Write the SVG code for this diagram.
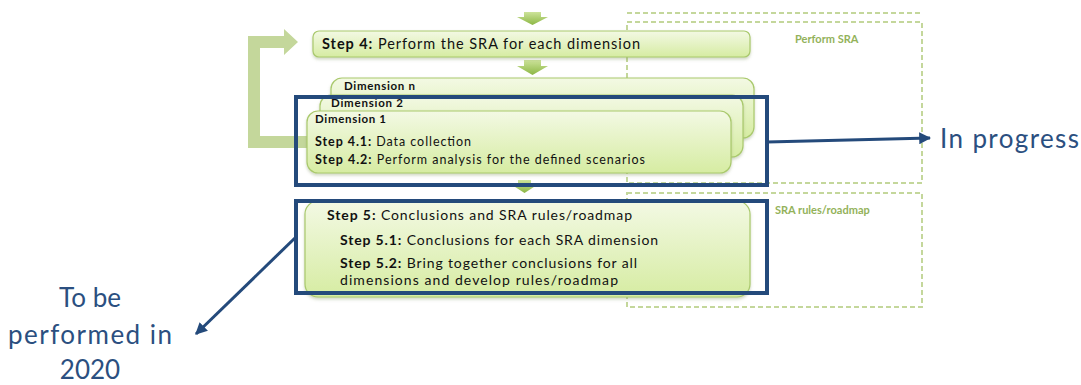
<svg xmlns="http://www.w3.org/2000/svg" width="1081" height="385" viewBox="0 0 1081 385">
  <defs>
    <linearGradient id="boxFill" x1="0" y1="0" x2="0" y2="1">
      <stop offset="0" stop-color="#f3f9e4"/>
      <stop offset="1" stop-color="#d6eca2"/>
    </linearGradient>
    <linearGradient id="chevFill" x1="0" y1="0" x2="0" y2="1">
      <stop offset="0" stop-color="#cde39a"/>
      <stop offset="1" stop-color="#8cb744"/>
    </linearGradient>
    <filter id="soft" x="-5%" y="-10%" width="110%" height="130%">
      <feDropShadow dx="0" dy="2" stdDeviation="1.5" flood-color="#7a8f55" flood-opacity="0.35"/>
    </filter>
    <marker id="blueHead" viewBox="0 0 10 10" refX="9" refY="5" markerWidth="4" markerHeight="4" orient="auto">
      <path d="M0,0 L10,5 L0,10 z" fill="#244a7b"/>
    </marker>
  </defs>
  <style>
    .box { fill: url(#boxFill); stroke: #a9c96c; stroke-width: 1.2; filter: url(#soft); }
    .chev { fill: url(#chevFill); }
    .zone { fill: none; stroke: #c4d79b; stroke-width: 2; stroke-dasharray: 5 3; }
    .zlabel { font-family: Lato, "Liberation Sans", sans-serif; font-size: 11px; font-weight: bold; fill: #93b25a; }
    .t { font-family: Lato, "Liberation Sans", sans-serif; fill: #111; }
    .b { font-weight: bold; }
    .frame { fill: none; stroke: #244a7b; stroke-width: 4; }
    .note { font-family: Lato, "Liberation Sans", sans-serif; font-size: 26px; fill: #2b4f80; }
    .link { stroke: #244a7b; stroke-width: 3; fill: none; marker-end: url(#blueHead); }
  </style>

  <!-- dashed phase zones on the right -->
  <g id="zones">
    <line class="zone" x1="627" y1="13" x2="922" y2="13"/>
    <rect class="zone" x="627" y="22" width="295" height="161"/>
    <text class="zlabel" x="795" y="43">Perform SRA</text>
    <rect class="zone" x="627" y="193" width="295" height="114"/>
    <text class="zlabel" x="775" y="214">SRA rules/roadmap</text>
  </g>

  <!-- green flow connectors -->
  <g id="connectors">
    <path class="chev" d="M524,12 H541 V17 H548 L532.5,25 L517,17 H524 Z"/>
    <path class="chev" d="M524,60 H541 V66 H548 L532.5,75 L517,66 H524 Z"/>
    <path class="chev" d="M518,180 H531 V185 H537 L524.5,193 L512,185 H518 Z"/>
    <!-- loop back to step 4 -->
    <path fill="#c4d79b" d="M248,36 H284 V29 L298,42 L284,55 V48 H260 V136 H310 V148 H248 Z"/>
  </g>

  <g id="step4">
    <rect class="box" x="313" y="31" width="437" height="26" rx="6"/>
    <text class="t" x="322" y="49" font-size="14.5" textLength="318"><tspan class="b">Step 4:</tspan> Perform the SRA for each dimension</text>
  </g>

  <g id="dimension-n">
    <rect class="box" x="331" y="78" width="423" height="60" rx="11"/>
    <text class="t b" x="344" y="90" font-size="11.5" textLength="71">Dimension n</text>
  </g>

  <g id="dimension-2">
    <rect class="box" x="320" y="95" width="423" height="62" rx="11"/>
    <text class="t b" x="331" y="107" font-size="11.5" textLength="72">Dimension 2</text>
  </g>

  <g id="dimension-1">
    <rect class="box" x="307" y="111" width="424" height="62" rx="11"/>
    <text class="t b" x="315" y="123" font-size="11.5" textLength="71">Dimension 1</text>
    <text class="t" x="315" y="146" font-size="12.5" textLength="156"><tspan class="b">Step 4.1:</tspan> Data collection</text>
    <text class="t" x="315" y="164" font-size="12.5" textLength="330"><tspan class="b">Step 4.2:</tspan> Perform analysis for the defined scenarios</text>
  </g>

  <g id="step5">
    <rect class="box" x="305" y="201" width="445" height="96" rx="13"/>
    <text class="t" x="327" y="220" font-size="14" textLength="305"><tspan class="b">Step 5:</tspan> Conclusions and SRA rules/roadmap</text>
    <text class="t" x="340" y="245" font-size="14" textLength="318"><tspan class="b">Step 5.1:</tspan> Conclusions for each SRA dimension</text>
    <text class="t" x="340" y="268" font-size="14" textLength="297"><tspan class="b">Step 5.2:</tspan> Bring together conclusions for all</text>
    <text class="t" x="340" y="285" font-size="14" textLength="278">dimensions and develop rules/roadmap</text>
  </g>

  <!-- status frames and callouts -->
  <g id="in-progress">
    <rect class="frame" x="296" y="97" width="471" height="88"/>
    <line class="link" x1="767" y1="142" x2="930" y2="138"/>
    <text class="note" x="940" y="148" textLength="139">In progress</text>
  </g>

  <g id="planned-2020">
    <rect class="frame" x="296" y="201" width="471" height="92"/>
    <line class="link" x1="296" y1="237" x2="196" y2="334"/>
    <text class="note" text-anchor="middle" x="90" y="307">To be</text>
    <text class="note" text-anchor="middle" x="90" y="344" textLength="164">performed in</text>
    <text class="note" text-anchor="middle" x="90" y="379">2020</text>
  </g>
</svg>
